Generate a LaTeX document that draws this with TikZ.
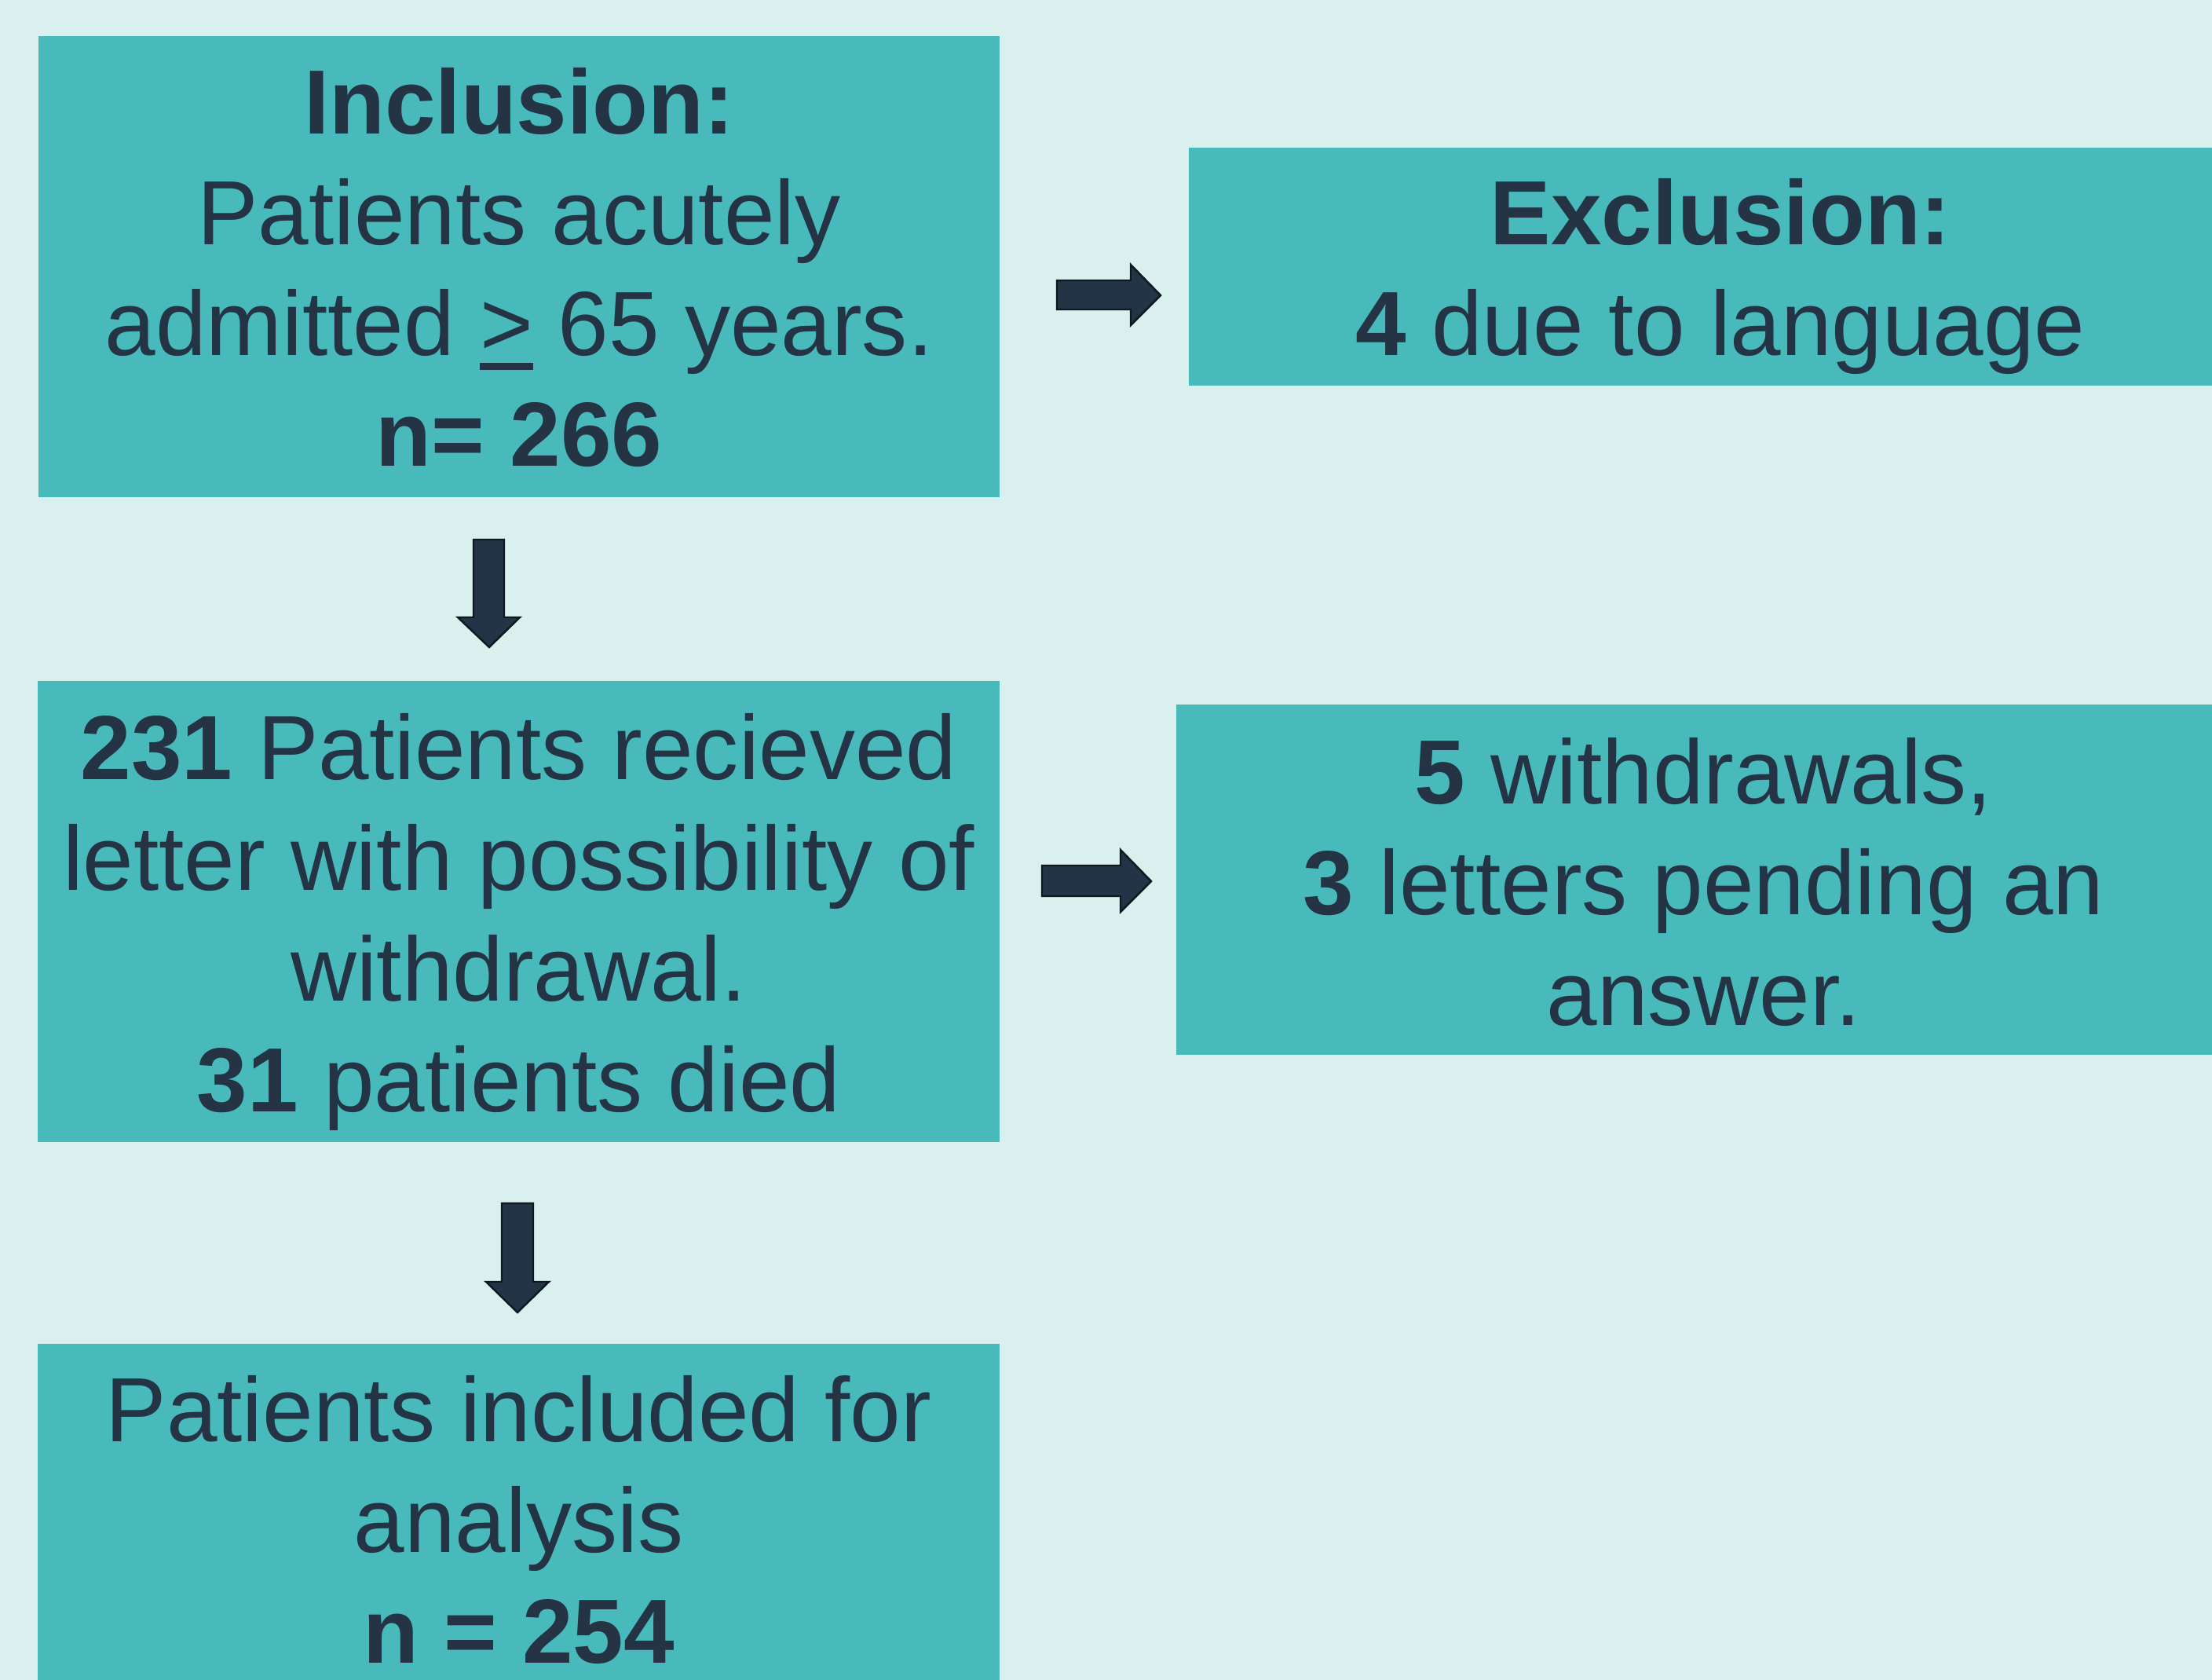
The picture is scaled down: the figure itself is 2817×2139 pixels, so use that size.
\documentclass[tikz,border=0pt]{standalone}
\usepackage{fontspec}
\setmainfont{Liberation Sans}
\usetikzlibrary{positioning}
\definecolor{bgmint}{HTML}{DAF0EE}
\definecolor{boxteal}{HTML}{48BABB}
\definecolor{inkblue}{HTML}{243444}
\definecolor{arrowfill}{HTML}{243447}
\definecolor{arrowline}{HTML}{0E1820}

\tikzset{
	box/.style={fill=boxteal, draw=none, anchor=north west, inner sep=0pt},
	boxtext/.style={text=inkblue, align=center, inner sep=0pt, font=\fontsize{33}{40.1}\selectfont},
	blockarrow/.style={fill=arrowfill, draw=arrowline, line width=0.7pt, line join=miter},
}
\newcommand{\geqline}{\makebox[0pt][l]{\rule[-0.16em]{0.584em}{0.078em}}>}

\begin{document}
\begin{tikzpicture}[x=0.01cm, y=-0.01cm]
	\useasboundingbox (0,0) rectangle (2817,2139);
	\clip (0,0) rectangle (2817,2139);
	\fill[bgmint] (0,0) rectangle (2817,2139);

	% boxes
	\node (incl) [box, minimum width=12.24cm, minimum height=5.87cm] at (48,45) {};
	\node (excl) [box, minimum width=13.54cm, minimum height=3.03cm] at (1513,187) {};
	\node (letter) [box, minimum width=12.25cm, minimum height=5.87cm] at (47,866) {};
	\node (withdr) [box, minimum width=13.43cm, minimum height=4.46cm] at (1497,896) {};
	\node (analysis) [box, minimum width=12.25cm, minimum height=4.48cm] at (47,1710) {};

	% texts
	\node (incltext) [boxtext, below=0.41cm of incl.north] {\textbf{Inclusion:}\\ Patients acutely\\ admitted \geqline{} 65 years.\\ \textbf{n= 266}};
	\node (excltext) [boxtext, below=0.40cm of excl.north] {\textbf{Exclusion:}\\ \textbf{4} due to language};
	\node (lettertext) [boxtext, below=0.42cm of letter.north] {\textbf{231} Patients recieved\\ letter with possibility of\\ withdrawal.\\ \textbf{31} patients died};
	\node (withdrtext) [boxtext, below=0.43cm of withdr.north] {\textbf{5} withdrawals,\\ \textbf{3} letters pending an\\ answer.};
	\node (analysistext) [boxtext, below=0.41cm of analysis.north] {Patients included for\\ analysis\\ \textbf{n = 254}};

	% arrows
	\coordinate (a1) at (1346,376);
	\coordinate (a2) at (623,687);
	\coordinate (a3) at (1327,1122);
	\coordinate (a4) at (659,1532);
	\draw[blockarrow] (a1) ++(0,-19) -- ++(94,0) -- ++(0,-20) -- ++(38,39) -- ++(-38,38) -- ++(0,-20) -- ++(-94,0) -- cycle;
	\draw[blockarrow] (a2) ++(-20,0) -- ++(0,99) -- ++(-20,0) -- ++(40,38) -- ++(39,-38) -- ++(-20,0) -- ++(0,-99) -- cycle;
	\draw[blockarrow] (a3) ++(0,-20) -- ++(100,0) -- ++(0,-20) -- ++(39,40) -- ++(-39,39) -- ++(0,-20) -- ++(-100,0) -- cycle;
	\draw[blockarrow] (a4) ++(-20,0) -- ++(0,100) -- ++(-20,0) -- ++(40,39) -- ++(40,-39) -- ++(-20,0) -- ++(0,-100) -- cycle;
\end{tikzpicture}
\end{document}
